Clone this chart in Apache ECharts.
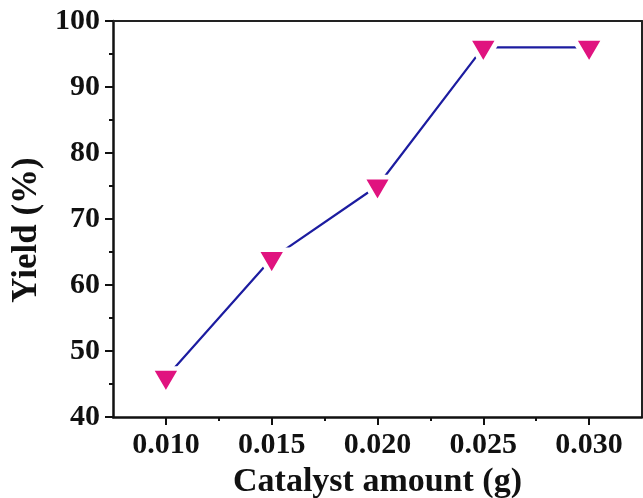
<!DOCTYPE html>
<html>
<head>
<meta charset="utf-8">
<script src="https://cdn.jsdelivr.net/npm/echarts@6/dist/echarts.min.js"></script>
<style>
html,body{margin:0;padding:0;background:#fff;}
#chart{width:643px;height:498px;}
</style>
</head>
<body>
<div id="chart"></div>
<script>
const catalystAmount = [0.010, 0.015, 0.020, 0.025, 0.030];
const yieldPct = [46, 64, 75, 96, 96];
const xMajorTicks = [0.010, 0.015, 0.020, 0.025, 0.030];
const xMinorTicks = [0.0125, 0.0175, 0.0225, 0.0275];
const yTicks = [40, 50, 60, 70, 80, 90, 100];

const FONT = '"Liberation Serif", "Times New Roman", serif';
const AX = '#111';
const chart = echarts.init(document.getElementById('chart'), null, {renderer: 'canvas'});

const baseX = {
  type: 'value', min: 0.0075, max: 0.0325, gridIndex: 0,
  splitLine: {show: false}
};

chart.setOption({
  backgroundColor: '#fff',
  animation: false,
  grid: {left: 113, right: 1, top: 21, bottom: 81, containLabel: false, outerBoundsMode: 'none'},
  xAxis: [
    Object.assign({}, baseX, {
      position: 'bottom',
      name: 'Catalyst amount (g)',
      nameLocation: 'middle',
      nameGap: 47,
      nameTextStyle: {fontFamily: FONT, fontWeight: 'bold', fontSize: 34, color: AX},
      axisLine: {show: true, onZero: false, lineStyle: {color: AX, width: 2.5}},
      axisTick: {show: true, inside: false, length: 8, lineStyle: {color: AX, width: 2}, customValues: xMajorTicks},
      axisLabel: {show: true, margin: 13, fontFamily: FONT, fontWeight: 'bold', fontSize: 30, color: AX,
        customValues: xMajorTicks, formatter: v => v.toFixed(3)}
    }),
    Object.assign({}, baseX, {
      position: 'bottom',
      axisLine: {show: false, onZero: false},
      axisTick: {show: true, inside: false, length: 4, lineStyle: {color: AX, width: 2}, customValues: xMinorTicks},
      axisLabel: {show: false}
    }),
    Object.assign({}, baseX, {
      position: 'top',
      axisLine: {show: true, onZero: false, lineStyle: {color: '#222', width: 2}},
      axisTick: {show: false},
      axisLabel: {show: false}
    })
  ],
  yAxis: [
    {
      type: 'value', min: 40, max: 100, interval: 10, position: 'left',
      name: 'Yield (%)',
      nameLocation: 'middle',
      nameGap: 66,
      nameTextStyle: {fontFamily: FONT, fontWeight: 'bold', fontSize: 35, color: AX, padding: [0, 22, 0, 0]},
      axisLine: {show: true, onZero: false, lineStyle: {color: AX, width: 2.5}},
      axisTick: {show: true, inside: false, length: 8, lineStyle: {color: AX, width: 2}, customValues: yTicks},
      minorTick: {show: true, splitNumber: 2, length: 4, lineStyle: {color: AX, width: 2}},
      axisLabel: {show: true, margin: 13, fontFamily: FONT, fontWeight: 'bold', fontSize: 30, color: AX,
        customValues: yTicks},
      splitLine: {show: false}
    },
    {
      type: 'value', min: 40, max: 100, interval: 10, position: 'right',
      axisLine: {show: true, onZero: false, lineStyle: {color: '#222', width: 2}},
      axisTick: {show: false},
      axisLabel: {show: false},
      splitLine: {show: false}
    }
  ],
  series: [{
    type: 'line',
    xAxisIndex: 0, yAxisIndex: 0,
    data: catalystAmount.map((x, i) => [x, yieldPct[i]]),
    symbol: 'triangle',
    symbolRotate: 180,
    symbolSize: [31, 26.5],
    symbolOffset: [0, 4.4],
    showAllSymbol: true,
    lineStyle: {color: '#1c1ca0', width: 2.2},
    itemStyle: {color: '#e0137f', borderColor: '#ffffff', borderWidth: 5},
    emphasis: {disabled: true},
    z: 3
  }]
});
</script>
</body>
</html>
